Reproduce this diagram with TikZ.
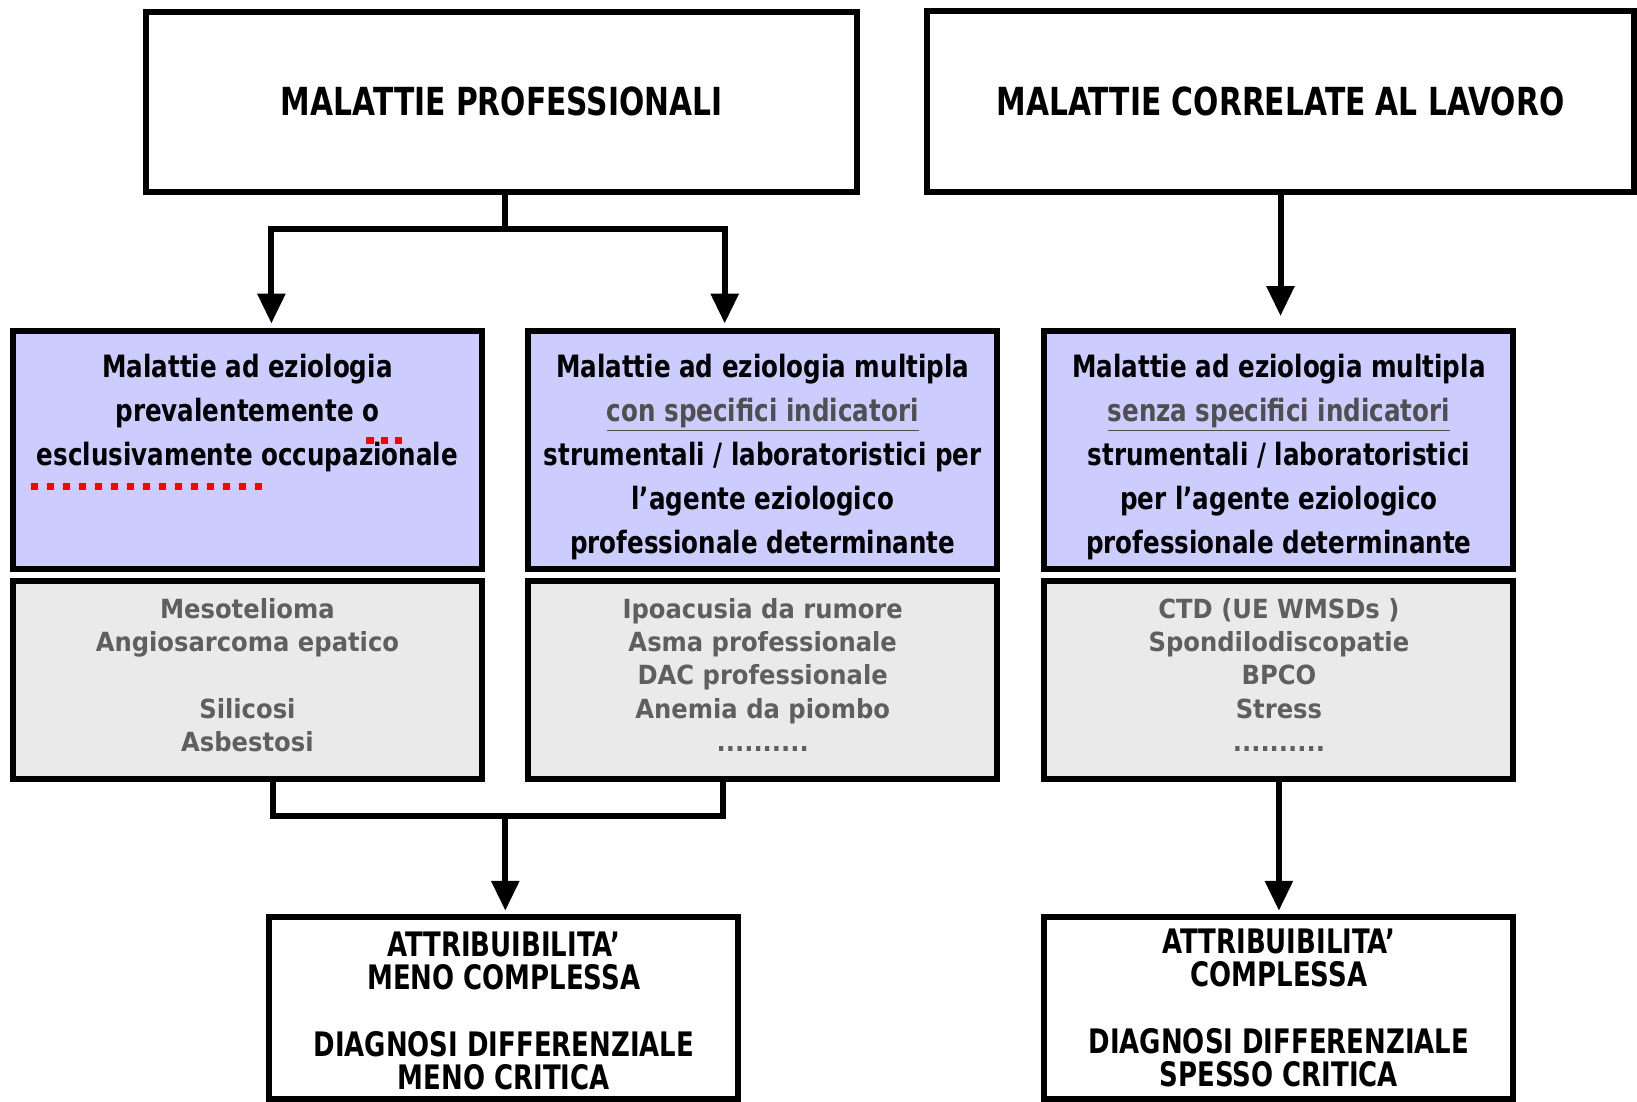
\documentclass[tikz,border=0pt]{standalone}
\usepackage{fontspec}
\newfontfamily\tahfont{DejaVu Sans}[FakeStretch=0.77]
\newfontfamily\ezfont{DejaVu Sans}[FakeStretch=0.80]
\newfontfamily\verfont{DejaVu Sans}[FakeStretch=0.92]
\usetikzlibrary{arrows.meta}
\definecolor{lilla}{RGB}{204,204,255}
\definecolor{grigio}{RGB}{234,234,234}
\definecolor{testogr}{RGB}{95,95,95}
\newcommand{\sott}[1]{{\color{testogr!110}\underline{#1}}}
\newcommand{\su}[1]{\rule{0pt}{#1}}
\newcommand{\giu}[1]{\rule[-#1]{0pt}{#1}}

\begin{document}
\begin{tikzpicture}[x=0.02cm, y=-0.02cm,
  box/.style={draw, line width=0.12cm, inner sep=0pt, align=center},
  titolo/.style={box, minimum height=3.61cm, font=\tahfont\bfseries\fontsize{22}{26}\selectfont},
  ezio/.style={box, fill=lilla, minimum width=9.38cm, minimum height=4.76cm, font=\ezfont\bfseries\fontsize{17.5}{25}\selectfont},
  esempi/.style={box, fill=grigio, text=testogr, minimum width=9.38cm, minimum height=3.95cm, font=\verfont\bfseries\fontsize{15}{19}\selectfont},
  attr/.style={box, minimum width=9.38cm, minimum height=3.65cm, font=\tahfont\bfseries\fontsize{19.2}{19}\selectfont},
  link/.style={line width=0.12cm},
  arr/.style={link, -{Triangle[width=0.54cm, length=0.6cm]}},
  rosso/.style={red, line width=0.14cm}]
\useasboundingbox (0,0) rectangle (1637,1102);
% titoli
\node[titolo, minimum width=14.22cm] (mp) at (501.7,101.8) {MALATTIE PROFESSIONALI};
\node[titolo, minimum width=14.14cm] (mc) at (1280.5,101.3) {MALATTIE CORRELATE AL LAVORO};
% eziologia
\node[ezio] (e1) at (247.4,450) {\su{18pt}Malattie ad eziologia\\prevalentemente o\\esclusivamente occupazionale\\\mbox{}\\\mbox{}};
\node[ezio] (e2) at (762.7,450) {\su{21pt}Malattie ad eziologia multipla\\\sott{con specifici indicatori}\\strumentali / laboratoristici per\\l’agente eziologico\\professionale determinante};
\node[ezio] (e3) at (1278.9,450) {\su{21pt}Malattie ad eziologia multipla\\\sott{senza specifici indicatori}\\strumentali / laboratoristici\\per l’agente eziologico\\professionale determinante};
% esempi
\node[esempi] (g1) at (247.4,680.2) {Mesotelioma\\Angiosarcoma epatico\\[19pt]Silicosi\\Asbestosi\giu{6pt}};
\node[esempi] (g2) at (762.7,680.2) {Ipoacusia da rumore\\Asma professionale\\DAC professionale\\Anemia da piombo\\..........\giu{6pt}};
\node[esempi] (g3) at (1278.9,680.2) {CTD (UE WMSDs )\\Spondilodiscopatie\\BPCO\\Stress\\..........\giu{6pt}};
% attribuibilita
\node[attr] (a1) at (503.8,1008) {\su{17.5pt}ATTRIBUIBILITA’\\MENO COMPLESSA\\[19pt]DIAGNOSI DIFFERENZIALE\\MENO CRITICA};
\node[attr] (a2) at (1278.9,1008) {ATTRIBUIBILITA’\\COMPLESSA\\[19pt]DIAGNOSI DIFFERENZIALE\\SPESSO CRITICA};
% frecce
\draw[link] ([xshift=0.07cm]mp.south) -- ++(0,34) coordinate (fk);
\draw[arr, shorten >=0.09cm] (fk) -| ([xshift=0.48cm]e1.north);
\draw[arr, shorten >=0.09cm] (fk) -| ([xshift=-0.76cm]e2.north);
\draw[arr, shorten >=0.24cm] (mc.south) -- (mc.south |- e3.north);
\coordinate (jn) at (505.3,816.4);
\draw[link] ([xshift=0.52cm]g1.south) |- (jn) -| ([xshift=-0.8cm]g2.south);
\draw[arr, shorten >=0.06cm] (jn) -- (jn |- a1.north);
\draw[arr, shorten >=0.06cm] (g3.south) -- (g3.south |- a2.north);
% segni rossi
\draw[rosso, dash pattern=on 0.14cm off 0.18cm] (31,486.5) -- (263,486.5);
\draw[rosso, dash pattern=on 0.15cm off 0.14cm] (366,440.5) -- (402,440.5);
\end{tikzpicture}
\end{document}
